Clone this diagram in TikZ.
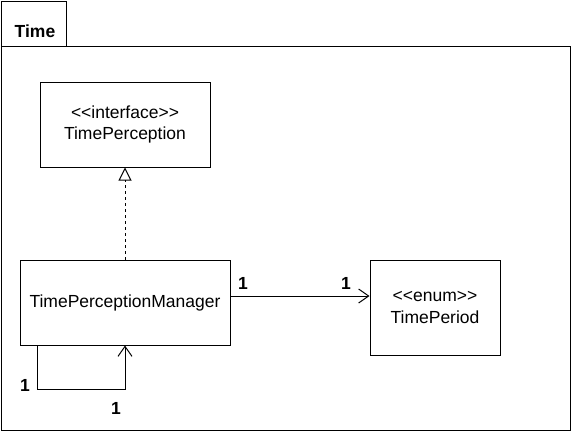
\documentclass[tikz,border=0pt]{standalone}
\usepackage{fontspec}
\setmainfont{Liberation Sans}
\usetikzlibrary{arrows.meta}
\newcommand{\ltlt}{\textless\kern0pt\textless}
\newcommand{\gtgt}{\textgreater\kern0pt\textgreater}
\begin{document}
\begin{tikzpicture}[x=1pt,y=-1pt,line width=1pt,
  box/.style={draw,inner sep=0pt,font=\fontsize{17.5}{21.5}\selectfont,align=center},
  mult/.style={font=\fontsize{17.5}{20}\selectfont\bfseries,inner sep=0pt},
  realize/.style={dashed,dash pattern=on 3pt off 3pt,-{Triangle[open,length=13pt,width=13pt]}},
  assoc/.style={-{Straight Barb[length=10pt,width=14pt]}}]
\useasboundingbox (0,0) rectangle (571,431);
% package
\draw (1,1) rectangle (66,46);
\draw (1,46) rectangle (570,430);
\node[mult] (pkg) at (35,31) {Time};
% classes
\node[box,minimum width=170pt,minimum height=85pt] (tp) at (125,124.5) {\ltlt interface\gtgt\\TimePerception};
\node[box,minimum width=210pt,minimum height=85pt] (tpm) at (125,302.5) {TimePerceptionManager};
\node[box,minimum width=130pt,minimum height=95pt] (per) at (435,307.5) {\ltlt enum\gtgt\\TimePeriod};
% connectors
\draw[realize] (tpm.north) -- (tp.south);
\draw[assoc] (tpm.east |- 0,296) -- (per.west |- 0,296);
\coordinate (l1) at (37,389);
\coordinate (l2) at (125,389);
\draw[assoc] (tpm.south -| l1) -- (l1) -- (l2) -- (tpm.south);
% multiplicities
\node[mult] (m1) at (243,283) {1};
\node[mult] (m2) at (346,283) {1};
\node[mult] (m3) at (25,385) {1};
\node[mult] (m4) at (116,408) {1};
\end{tikzpicture}
\end{document}
